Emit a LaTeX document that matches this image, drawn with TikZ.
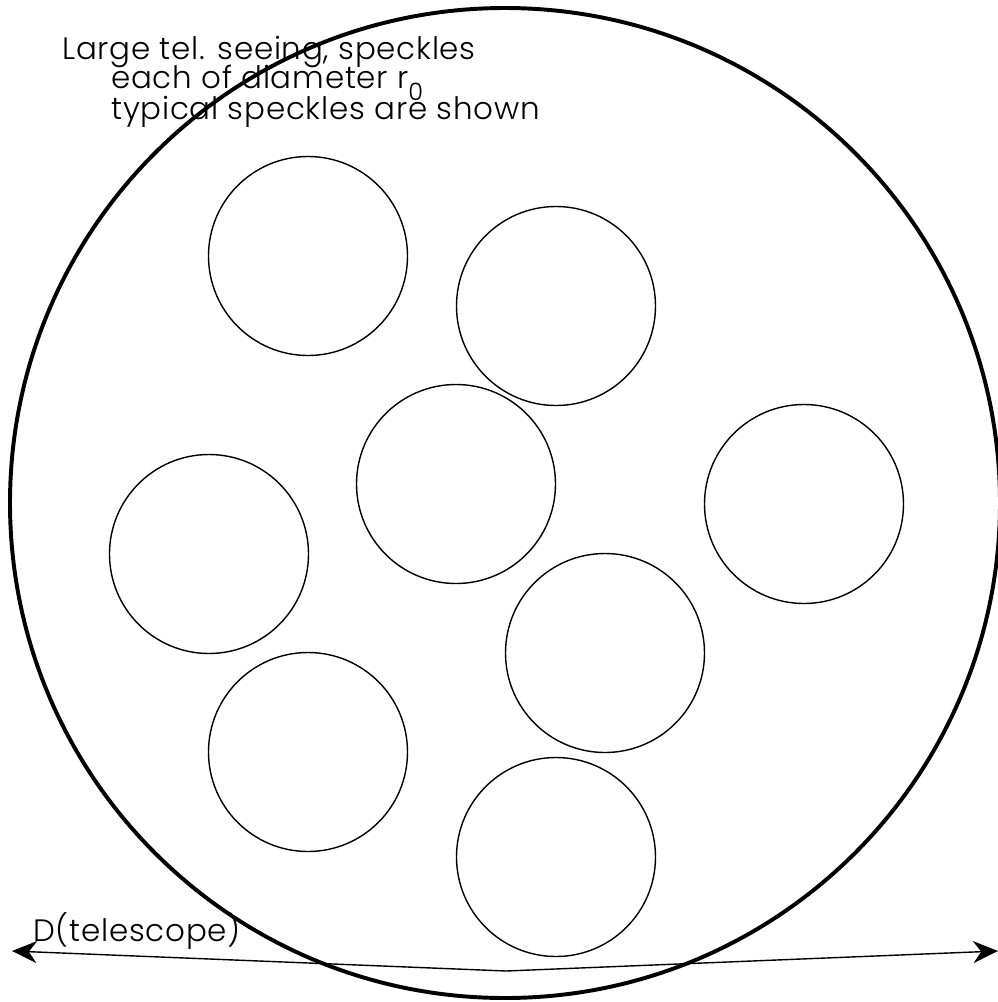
\documentclass[tikz,border=0pt]{standalone}
\usepackage{fontspec}
\setmainfont{Poppins}[UprightFont=* Light,LetterSpace=2.5]
\usetikzlibrary{arrows.meta}
\tikzset{
 pupil/.style={draw=black,line width=2.8pt},
 speckle/.style={draw=black,line width=1.0pt},
 label/.style={anchor=base west,inner sep=0pt,font=\fontsize{22}{26}\selectfont},
 dimline/.style={{Stealth[length=0.62cm,width=0.55cm,inset=0.2cm]}-{Stealth[length=0.62cm,width=0.55cm,inset=0.2cm]},line width=1.0pt}}

\begin{document}
\begin{tikzpicture}[x=0.025cm,y=-0.025cm]
\useasboundingbox (0,0) rectangle (998,1002);
% telescope aperture
\draw[pupil] (505,503) circle (495);
% typical speckles, each of diameter r0
\foreach \cx/\cy in {308/256,556/306,456/484,804/504,209/554,605/653,308/752,556/857}
  \draw[speckle] (\cx,\cy) circle (99.5);
\node[label] (title) at (62,59) {Large tel. seeing, speckles};
\node[label] (diam) at (111,88) {each of diameter r\lower 0.3cm\hbox{\fontsize{17}{20}\selectfont 0}};
\node[label] (typ) at (111,119) {typical speckles are shown};
\node[label] (dlabel) at (33,941) {D(telescope)};
\coordinate (dleft) at (12,951);
\coordinate (dmid) at (506,971);
\coordinate (dright) at (998,951);
\draw[dimline] (dleft) -- (dmid) -- (dright);
\end{tikzpicture}
\end{document}
